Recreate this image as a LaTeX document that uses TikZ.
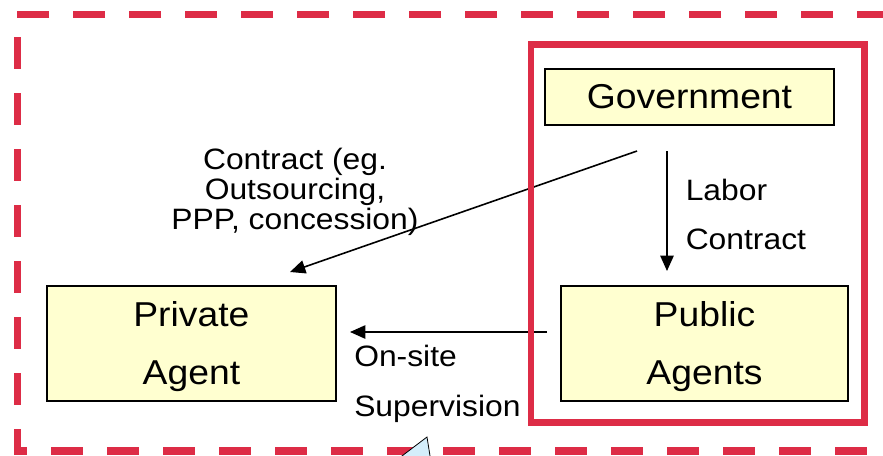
\documentclass[tikz,border=0pt]{standalone}
\usepackage{fontspec}
\setmainfont[FakeStretch=1.08]{Liberation Sans}
\usetikzlibrary{arrows.meta,positioning}
\definecolor{framered}{RGB}{221,44,70}
\definecolor{boxyellow}{RGB}{255,255,208}
\definecolor{calloutblue}{RGB}{212,238,251}

\begin{document}
\begin{tikzpicture}[x=0.75pt, y=-0.75pt,
    agent/.style={draw=black, line width=1.2pt, fill=boxyellow, inner sep=0pt,
                  align=center, font=\fontsize{25.9}{43.5}\selectfont},
    note/.style={inner sep=0pt, font=\fontsize{22.1}{22.5}\selectfont},
    flow/.style={line width=1.2pt, -{Triangle[length=11.5pt, width=10pt]}}]
    \useasboundingbox (0,0) rectangle (883,455);
    \clip (0,0) rectangle (883,455);

    % outer dashed frame, runs off the right and bottom
    \draw[framered, line width=5.7pt, dash pattern=on 24pt off 18pt, dash phase=25.125pt]
        (17.3,14.5) -- (17.3,451) -- (896,451) -- (896,14.5) -- cycle;

    % the three parties
    \node[agent, minimum width=216.75pt, minimum height=42pt] (gov) at (689.5,97) {Government};
    \node[agent, minimum width=216.75pt, minimum height=86.25pt, text depth=0pt] (private) at (191.4,343.3) {Private\\Agent};
    \node[agent, minimum width=215.25pt, minimum height=86.25pt, text depth=0pt] (public) at (704.5,343.3) {Public\\Agents};

    % arrow ends
    \coordinate (contractfrom) at (637,151);
    \coordinate (contractto) at (290,272);
    \coordinate (laborfrom) at (667,151);
    \coordinate (laborto) at (667,271);
    \coordinate (sitefrom) at (547,332);
    \coordinate (siteto) at (350,332);

    \draw[flow] (contractfrom) -- (contractto);
    \draw[flow] (laborfrom) -- (laborto);
    \draw[flow] (sitefrom) -- (siteto);

    % public sector frame
    \draw[framered, line width=4.9pt] (531,44.5) rectangle (864.5,422.5);

    \node[note, align=center] (contractlbl) at (295,192) {Contract (eg.\\Outsourcing,\\PPP, concession)};
    \node[note, align=left, anchor=west, font=\fontsize{22.1}{36.5}\selectfont] (laborlbl) at (685.5,214.5) {Labor\\Contract};
    \node[note, align=left, anchor=west, font=\fontsize{22.1}{37.5}\selectfont] (sitelbl) at (354,383.5) {On-site\\Supervision};

    % tip of a callout coming up from below
    \draw[line width=0.6pt, fill=calloutblue] (394,462) -- (427,437) -- (431,462) -- cycle;
\end{tikzpicture}
\end{document}
